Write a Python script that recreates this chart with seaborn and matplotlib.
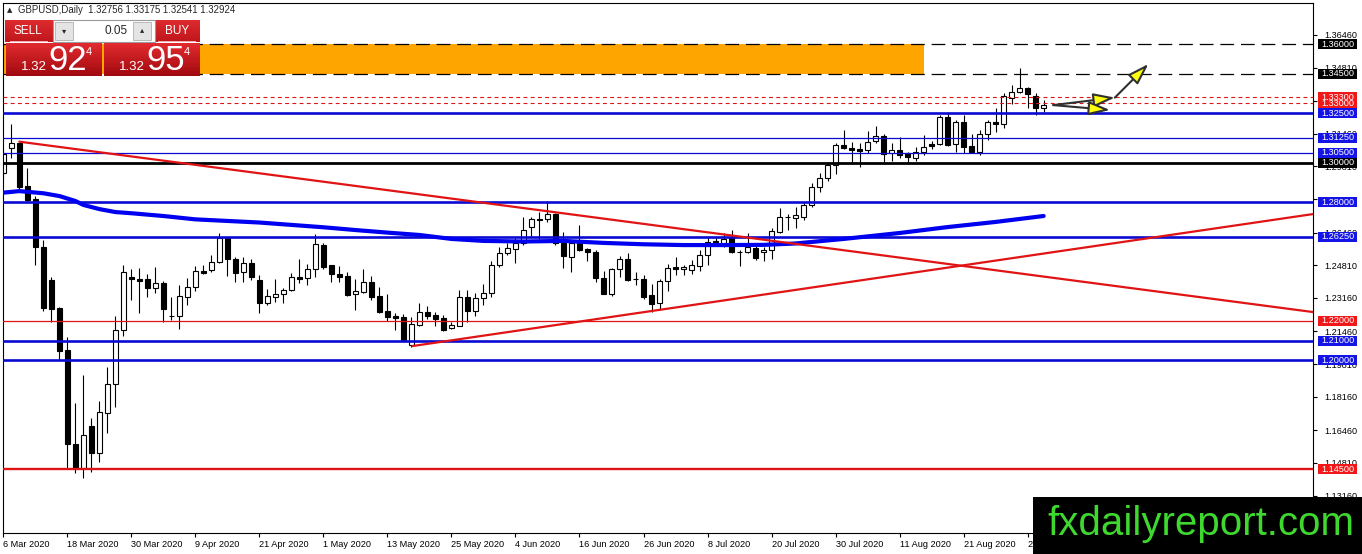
import numpy as np
import pandas as pd
import seaborn as sns
import matplotlib.pyplot as plt
import matplotlib.patches as mpatches

# ---- daily candles, GBPUSD, 6 Mar 2020 .. 4 Sep 2020 ----
opens = [1.2946, 1.3072, 1.3098, 1.2882, 1.2814, 1.2575, 1.2406, 1.2266, 1.2052, 1.1577,
         1.1457, 1.1668, 1.1530, 1.1735, 1.1879, 1.2153, 1.2423, 1.2411, 1.2411, 1.2364,
         1.2390, 1.2224, 1.2224, 1.2322, 1.2372, 1.2452, 1.2456, 1.2496, 1.2617, 1.2512,
         1.2445, 1.2491, 1.2406, 1.2288, 1.2322, 1.2334, 1.2356, 1.2420, 1.2415, 1.2460,
         1.2583, 1.2481, 1.2435, 1.2426, 1.2334, 1.2347, 1.2395, 1.2325, 1.2251, 1.2224,
         1.2218, 1.2077, 1.2179, 1.2243, 1.2229, 1.2213, 1.2165, 1.2175, 1.2322, 1.2251,
         1.2314, 1.2339, 1.2481, 1.2541, 1.2562, 1.2592, 1.2676, 1.2715, 1.2715, 1.2739,
         1.2592, 1.2524, 1.2592, 1.2561, 1.2546, 1.2415, 1.2335, 1.2460, 1.2511, 1.2411,
         1.2411, 1.2330, 1.2288, 1.2400, 1.2470, 1.2460, 1.2457, 1.2479, 1.2533, 1.2600,
         1.2595, 1.2617, 1.2546, 1.2546, 1.2567, 1.2546, 1.2558, 1.2651, 1.2723, 1.2721,
         1.2726, 1.2786, 1.2875, 1.2921, 1.2988, 1.3089, 1.3072, 1.3067, 1.3064, 1.3109,
         1.3135, 1.3050, 1.3064, 1.3047, 1.3025, 1.3055, 1.3094, 1.3093, 1.3232, 1.3093,
         1.3204, 1.3086, 1.3055, 1.3143, 1.3204, 1.3194, 1.3328, 1.3359, 1.3376, 1.3339,
         1.32756]
highs = [1.3065, 1.3195, 1.3100, 1.2971, 1.2831, 1.2609, 1.2423, 1.2271, 1.2119, 1.1783,
         1.1926, 1.1707, 1.1794, 1.1968, 1.2224, 1.2482, 1.2460, 1.2465, 1.2435, 1.2471,
         1.2403, 1.2319, 1.2381, 1.2415, 1.2477, 1.2482, 1.2531, 1.2646, 1.2620, 1.2521,
         1.2521, 1.2511, 1.2432, 1.2359, 1.2410, 1.2367, 1.2443, 1.2511, 1.2487, 1.2639,
         1.2595, 1.2481, 1.2477, 1.2448, 1.2410, 1.2460, 1.2426, 1.2369, 1.2335, 1.2238,
         1.2234, 1.2218, 1.2288, 1.2276, 1.2244, 1.2229, 1.2195, 1.2356, 1.2356, 1.2339,
         1.2385, 1.2502, 1.2572, 1.2592, 1.2617, 1.2726, 1.2726, 1.2749, 1.2806, 1.2744,
         1.2648, 1.2600, 1.2684, 1.2570, 1.2558, 1.2452, 1.2465, 1.2529, 1.2541, 1.2448,
         1.2432, 1.2385, 1.2410, 1.2488, 1.2521, 1.2482, 1.2508, 1.2558, 1.2622, 1.2622,
         1.2642, 1.2659, 1.2558, 1.2642, 1.2592, 1.2575, 1.2668, 1.2769, 1.2740, 1.2777,
         1.2802, 1.2898, 1.2949, 1.3005, 1.3101, 1.3165, 1.3106, 1.3098, 1.3161, 1.3185,
         1.3145, 1.3101, 1.3128, 1.3055, 1.3080, 1.3140, 1.3109, 1.3241, 1.3258, 1.3216,
         1.3241, 1.3143, 1.3165, 1.3216, 1.3278, 1.3351, 1.3393, 1.3477, 1.3384, 1.3351,
         1.33175]
lows = [1.2920, 1.3025, 1.2858, 1.2802, 1.2482, 1.2249, 1.2194, 1.2002, 1.1449, 1.1428,
        1.1403, 1.1437, 1.1487, 1.1631, 1.1765, 1.2125, 1.2305, 1.2238, 1.2322, 1.2342,
        1.2195, 1.2204, 1.2157, 1.2280, 1.2351, 1.2436, 1.2448, 1.2491, 1.2428, 1.2398,
        1.2398, 1.2406, 1.2238, 1.2278, 1.2297, 1.2291, 1.2352, 1.2393, 1.2381, 1.2420,
        1.2460, 1.2398, 1.2398, 1.2325, 1.2255, 1.2339, 1.2305, 1.2241, 1.2200, 1.2153,
        1.2094, 1.2069, 1.2174, 1.2210, 1.2175, 1.2150, 1.2157, 1.2175, 1.2195, 1.2224,
        1.2280, 1.2319, 1.2471, 1.2535, 1.2494, 1.2583, 1.2625, 1.2612, 1.2701, 1.2583,
        1.2465, 1.2445, 1.2555, 1.2502, 1.2395, 1.2334, 1.2325, 1.2423, 1.2401, 1.2381,
        1.2309, 1.2246, 1.2253, 1.2350, 1.2432, 1.2432, 1.2437, 1.2453, 1.2482, 1.2583,
        1.2575, 1.2541, 1.2477, 1.2543, 1.2507, 1.2504, 1.2511, 1.2642, 1.2660, 1.2668,
        1.2710, 1.2777, 1.2853, 1.2909, 1.2942, 1.3067, 1.3000, 1.2976, 1.3050, 1.3101,
        1.3005, 1.3010, 1.3022, 1.3000, 1.3010, 1.3039, 1.3067, 1.3089, 1.3086, 1.3055,
        1.3047, 1.3052, 1.3039, 1.3114, 1.3156, 1.3177, 1.3295, 1.3351, 1.3278, 1.3241,
        1.32541]
closes = [1.3042, 1.3098, 1.2875, 1.2811, 1.2572, 1.2266, 1.2260, 1.2049, 1.1575, 1.1457,
          1.1622, 1.1530, 1.1737, 1.1879, 1.2153, 1.2445, 1.2410, 1.2403, 1.2364, 1.2390,
          1.2258, 1.2226, 1.2325, 1.2372, 1.2452, 1.2440, 1.2496, 1.2617, 1.2511, 1.2443,
          1.2491, 1.2423, 1.2288, 1.2325, 1.2334, 1.2356, 1.2420, 1.2411, 1.2460, 1.2587,
          1.2474, 1.2435, 1.2420, 1.2330, 1.2351, 1.2395, 1.2322, 1.2246, 1.2221, 1.2216,
          1.2099, 1.2182, 1.2243, 1.2224, 1.2210, 1.2153, 1.2179, 1.2322, 1.2251, 1.2314,
          1.2339, 1.2481, 1.2541, 1.2567, 1.2592, 1.2659, 1.2713, 1.2711, 1.2739, 1.2592,
          1.2528, 1.2595, 1.2558, 1.2546, 1.2415, 1.2335, 1.2460, 1.2511, 1.2406, 1.2409,
          1.2322, 1.2285, 1.2400, 1.2468, 1.2463, 1.2473, 1.2482, 1.2533, 1.2600, 1.2603,
          1.2612, 1.2546, 1.2549, 1.2575, 1.2516, 1.2558, 1.2654, 1.2723, 1.2727, 1.2735,
          1.2786, 1.2875, 1.2921, 1.2988, 1.3089, 1.3075, 1.3066, 1.3061, 1.3106, 1.3135,
          1.3044, 1.3064, 1.3039, 1.3027, 1.3055, 1.3077, 1.3086, 1.3232, 1.3089, 1.3207,
          1.3080, 1.3055, 1.3143, 1.3204, 1.3194, 1.3339, 1.3359, 1.3376, 1.3346, 1.3275,
          1.32924]

date_labels = ['6 Mar 2020', '18 Mar 2020', '30 Mar 2020', '9 Apr 2020', '21 Apr 2020',
               '1 May 2020', '13 May 2020', '25 May 2020', '4 Jun 2020', '16 Jun 2020',
               '26 Jun 2020', '8 Jul 2020', '20 Jul 2020', '30 Jul 2020', '11 Aug 2020',
               '21 Aug 2020', '2 Sep 2020']
label_every = 8

# moving average (thick blue), sampled bars
ma_bars = [0, 2, 5, 7, 9, 10, 12, 14, 16, 20, 24, 28, 32, 36, 40, 44, 48, 52, 56, 60,
           65, 70, 75, 80, 85, 90, 95, 99, 105, 112, 118, 124, 130]
ma_vals = [1.2848, 1.2856, 1.2845, 1.2831, 1.2806, 1.2786, 1.2765, 1.2750, 1.2744, 1.2730,
           1.2713, 1.2705, 1.2697, 1.2685, 1.2673, 1.2659, 1.2646, 1.2634, 1.2614, 1.2604,
           1.2601, 1.2604, 1.2594, 1.2587, 1.2583, 1.2583, 1.2584, 1.2591, 1.2614, 1.2644,
           1.2674, 1.2700, 1.2730]

price_ticks = [1.36460, 1.34810, 1.33110, 1.31460, 1.29810, 1.28160, 1.26460, 1.24810,
               1.23160, 1.21460, 1.19810, 1.18160, 1.16460, 1.14810, 1.13160]

levels = [1.33000, 1.33300, 1.36000, 1.34500, 1.32500, 1.31250, 1.30500, 1.30000,
          1.28000, 1.26250, 1.22000, 1.21000, 1.20000, 1.14500]
level_kinds = ['red_dot', 'red_dot', 'black_dash', 'black_dash', 'blue_thick', 'blue_thin',
               'blue_thin', 'black_thick', 'blue_thick', 'blue_thick', 'red_thin',
               'blue_thick', 'blue_thick', 'red_thick']

trend_down_bars = [2, 163.7]
trend_down_px = [1.3106, 1.2244]
trend_up_bars = [51.1, 163.7]
trend_up_px = [1.2072, 1.2740]

zone_bars = [-3, 115.1]
zone_px = [1.34500, 1.36000]

arrow_start = (131.2, 1.3291)
arrow_up_tip = (138.9, 1.3329)
arrow_dn_tip = (138.3, 1.3266)
arrow_final = (143.1, 1.3499)

header = 'GBPUSD,Daily  1.32756 1.33175 1.32541 1.32924'

# ---------------------------------------------------------------------------
sns.set_style('white')
plt.rcParams['font.family'] = ['Liberation Sans', 'DejaVu Sans']

W, H = 1362, 554
fig = plt.figure(figsize=(W / 100, H / 100), dpi=100)
ax = fig.add_axes([3 / W, 21 / H, 1310 / W, 530 / H])

df = pd.DataFrame({'open': opens, 'high': highs, 'low': lows, 'close': closes})
df['bar'] = np.arange(len(df))
df['bull'] = df['close'] >= df['open']
df['bottom'] = df[['open', 'close']].min(axis=1)
df['height'] = (df['close'] - df['open']).abs().clip(lower=0.00012)

# wicks then bodies
ax.vlines(df['bar'], df['low'], df['high'], color='black', lw=0.8, zorder=2)
ax.bar(df['bar'], df['height'], bottom=df['bottom'], width=0.55,
       color=np.where(df['bull'], 'white', 'black'), edgecolor='black', lw=0.8, zorder=2.1)

# supply zone
ax.add_patch(mpatches.Rectangle((zone_bars[0], zone_px[0]), zone_bars[1] - zone_bars[0],
                                zone_px[1] - zone_px[0], facecolor='#ffa500',
                                edgecolor='none', zorder=1))

blue = '#0a0ad2'
red = '#e01414'
styles = {
    'black_dash': dict(color='black', lw=0.9, ls=(0, (11, 5.5))),
    'red_dot': dict(color=red, lw=0.8, ls=(0, (3.5, 3))),
    'blue_thick': dict(color=blue, lw=1.9, ls='-'),
    'blue_thin': dict(color=blue, lw=0.9, ls='-'),
    'black_thick': dict(color='black', lw=2.0, ls='-'),
    'red_thin': dict(color=red, lw=0.9, ls='-'),
    'red_thick': dict(color=red, lw=1.7, ls='-'),
}
box_colors = {'black': '#000000', 'red': '#f01818', 'blue': '#1414e6'}

for lv, kind in zip(levels, level_kinds):
    ax.axhline(lv, zorder=3, **styles[kind])

# moving average and trend lines
sns.lineplot(x=ma_bars, y=ma_vals, ax=ax, color='#0000f0', lw=3.0, zorder=3.2)
sns.lineplot(x=trend_down_bars, y=trend_down_px, ax=ax, color=red, lw=1.6, zorder=3.3)
sns.lineplot(x=trend_up_bars, y=trend_up_px, ax=ax, color=red, lw=1.6, zorder=3.3)

# arrows
aprops = dict(arrowstyle='-|>,head_length=1.3,head_width=0.42', fc='#ffff10', ec='#303030',
              lw=1.5, shrinkA=0, shrinkB=0)
ax.annotate('', xy=arrow_up_tip, xytext=arrow_start, arrowprops=aprops, zorder=4)
ax.annotate('', xy=arrow_dn_tip, xytext=arrow_start, arrowprops=aprops, zorder=4)
ax.annotate('', xy=arrow_final, xytext=arrow_up_tip, arrowprops=aprops, zorder=4)

# axes
ax.set_xlim(-0.04, 163.66)
ax.set_ylim(1.11266, 1.38074)
ax.yaxis.tick_right()
ax.set_yticks(price_ticks)
ax.set_yticklabels(['%.5f' % t for t in price_ticks])
ax.set_xticks(np.arange(len(date_labels)) * label_every)
ax.set_xticklabels(date_labels)
plt.setp(ax.get_xticklabels(), ha='left')
ax.tick_params(axis='y', right=True, direction='out', length=3, width=0.8, pad=5,
               labelsize=6.6, colors='black')
ax.tick_params(axis='x', bottom=True, direction='out', length=3, width=0.8, pad=2,
               labelsize=6.6, colors='black')
for sp in ax.spines.values():
    sp.set_color('black')
    sp.set_linewidth(0.8)
ax.set_xlabel('')
ax.set_ylabel('')

# level price labels on the right
yt = ax.get_yaxis_transform()
bw, bh = 39 / 1310, 10 / 1977
for lv, kind in zip(levels, level_kinds):
    ck = kind.split('_')[0]
    ax.add_patch(mpatches.Rectangle((1.0038, lv - bh / 2), bw, bh, transform=yt,
                                    facecolor=box_colors[ck], edgecolor='none',
                                    clip_on=False, zorder=5))
    ax.text(1.0038 + bw / 2, lv, '%.5f' % lv, transform=yt, ha='center', va='center',
            fontsize=6.6, color='white', clip_on=False, zorder=6)


# ---- overlay widgets in pixel coordinates ----
def px_rect(x, y, w, h, **kw):
    fig.add_artist(mpatches.Rectangle((x / W, 1 - (y + h) / H), w / W, h / H,
                                      transform=fig.transFigure, **kw))


def px_text(x, y, s, **kw):
    fig.text(x / W, 1 - y / H, s, **kw)


def red_box(x, y, w, h, top='#e12a2f', bot='#a10a0e', n=14):
    c0 = np.array(plt.matplotlib.colors.to_rgb(top))
    c1 = np.array(plt.matplotlib.colors.to_rgb(bot))
    for k in range(n):
        f = k / (n - 1)
        px_rect(x, y + k * h / n, w, h / n + 0.3, facecolor=c0 * (1 - f) + c1 * f,
                edgecolor='none')


px_text(7, 10, '\u25b2', fontsize=5, va='center', family=['DejaVu Sans'])
px_text(18, 10, header, fontsize=6.9, va='center')

# sell / buy panel
red_box(5, 20, 48, 22, top='#dc2a2e', bot='#c0161b')
red_box(155, 20, 45, 22, top='#dc2a2e', bot='#c0161b')
px_rect(53, 20, 102, 22, facecolor='white', edgecolor='#9a9a9a', lw=0.8)
px_rect(55, 22, 18, 18, facecolor='#e4e4e4', edgecolor='#b0b0b0', lw=0.6)
px_rect(133, 22, 18, 18, facecolor='#e4e4e4', edgecolor='#b0b0b0', lw=0.6)
px_text(64, 31, '\u25be', fontsize=6, ha='center', va='center', family=['DejaVu Sans'])
px_text(142, 30, '\u25b4', fontsize=6, ha='center', va='center', family=['DejaVu Sans'])
px_text(128, 31, '0.05', fontsize=8.5, ha='right', va='center')
px_text(28, 31, 'SELL', fontsize=8.5, ha='center', va='center', color='white')
px_text(177, 31, 'BUY', fontsize=8.5, ha='center', va='center', color='white')
px_rect(10, 41, 38, 0.8, facecolor='#f0b0b0', edgecolor='none')
px_rect(158, 41, 38, 0.8, facecolor='#f0b0b0', edgecolor='none')

red_box(6, 43, 96, 33)
red_box(104, 43, 96, 33)
for bx, big in [(6, '92'), (104, '95')]:
    px_text(bx + 15, 70, '1.32', fontsize=9.5, color='white', va='baseline')
    px_text(bx + 42, 70, big, fontsize=25, color='white', va='baseline')
    px_text(bx + 80, 55, '4', fontsize=8, color='white', va='baseline')

# watermark
px_rect(1033, 497, 329, 57, facecolor='black', edgecolor='none')
px_text(1047, 524, 'fxdailyreport.com', fontsize=29, color='#3fd82f', va='center')

plt.savefig('out.png', dpi=100)
